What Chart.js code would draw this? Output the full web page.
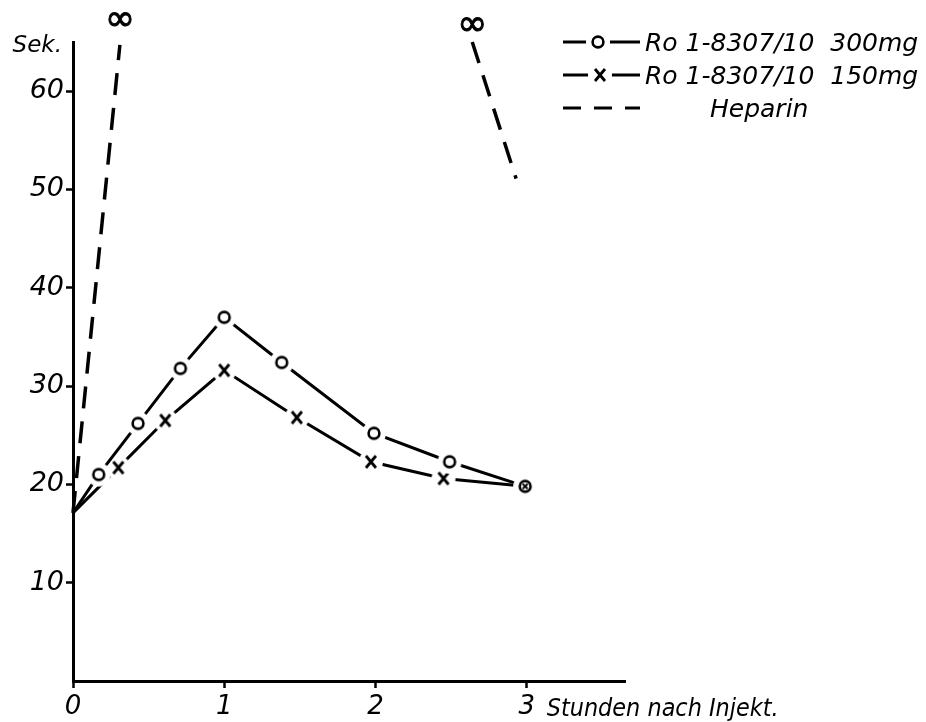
<!DOCTYPE html>
<html>
<head>
<meta charset="utf-8">
<script src="https://cdn.jsdelivr.net/npm/chart.js@4.4.0/dist/chart.umd.min.js"></script>
<style>
  body { margin: 0; background: #fff; }
  canvas { display: block; }
</style>
</head>
<body>
<canvas id="chart" width="926" height="722"></canvas>
<script>
// values (hours after injection, seconds)
const hours300 = [0, 0.17, 0.43, 0.71, 1.0, 1.38, 1.99, 2.49, 2.99];
const secs300 = [17.1, 21.0, 26.2, 31.8, 37.0, 32.4, 25.2, 22.3, 19.8];
const hours150 = [0, 0.30, 0.61, 1.0, 1.48, 1.97, 2.45, 2.99];
const secs150 = [17.1, 21.7, 26.5, 31.6, 26.8, 22.3, 20.6, 19.8];
// heparin goes off to infinity, two pieces
const heparinHours = [0, 0.31, 1.5, 2.64, 2.93];
const heparinSecs = [17.1, 64.7, null, 65.0, 51.1];
const xTicks = [0, 1, 2, 3];
const yTicks = [10, 20, 30, 40, 50, 60];
const legendLabels = ["Ro 1-8307/10  300mg", "Ro 1-8307/10  150mg", "Heparin"];

const FONT = '"DejaVu Sans"';

function pts(xs, ys) {
    return xs.map((x, i) => ({ x: x, y: ys[i] }));
}

// marker images with a white halo so the line stops short of the symbol
function marker(kind) {
    const c = document.createElement("canvas");
    c.width = 26;
    c.height = 26;
    const g = c.getContext("2d");
    g.fillStyle = "#fff";
    g.beginPath();
    g.arc(13, 13, 12, 0, Math.PI * 2);
    g.fill();
    g.strokeStyle = "#000";
    g.lineWidth = 2.6;
    if (kind === "circle" || kind === "both") {
        g.beginPath();
        g.arc(13, 13, 5.4, 0, Math.PI * 2);
        g.stroke();
    }
    if (kind === "cross") {
        g.lineWidth = 2.8;
        g.beginPath();
        g.moveTo(8, 7); g.lineTo(18, 19);
        g.moveTo(18, 7); g.lineTo(8, 19);
        g.stroke();
    }
    if (kind === "both") {
        g.lineWidth = 1.8;
        g.beginPath();
        g.moveTo(10.5, 10.5); g.lineTo(15.5, 15.5);
        g.moveTo(15.5, 10.5); g.lineTo(10.5, 15.5);
        g.stroke();
    }
    return c;
}
const circleImg = marker("circle");
const crossImg = marker("cross");
const bothImg = marker("both");

const extras = {
    id: "extras",
    afterDraw(chart) {
        const ctx = chart.ctx;
        const xs = chart.scales.x, ys = chart.scales.y;
        ctx.save();
        ctx.fillStyle = "#000";
        ctx.strokeStyle = "#000";

        // Sek. label
        ctx.font = "italic 23px " + FONT;
        ctx.textAlign = "right";
        ctx.textBaseline = "alphabetic";
        ctx.fillText("Sek.", 62, 52, 54);

        // axis caption after the "3"
        ctx.font = "italic 24px " + FONT;
        ctx.textAlign = "left";
        ctx.fillText("Stunden nach Injekt.", xs.getPixelForValue(3) + 20, 716, 232);

        // infinity signs over the heparin ends
        ctx.font = "36px " + FONT;
        ctx.textAlign = "center";
        ctx.textBaseline = "middle";
        ctx.lineWidth = 1;
        const inf = [[heparinHours[1], heparinSecs[1], 24], [heparinHours[3], heparinSecs[3], 16]];
        inf.forEach(([h, s, up]) => {
            const px = xs.getPixelForValue(h), py = ys.getPixelForValue(s) - up;
            ctx.fillText("\u221e", px, py);
            ctx.strokeText("\u221e", px, py);
        });

        // legend
        const rows = [42, 75, 108];
        ctx.lineWidth = 3;
        ctx.font = "italic 25px " + FONT;
        ctx.textAlign = "left";
        ctx.textBaseline = "middle";
        for (let i = 0; i < 3; i++) {
            const y = rows[i];
            ctx.beginPath();
            if (i === 2) ctx.setLineDash([18, 13]);
            ctx.moveTo(563, y);
            ctx.lineTo(640, y);
            ctx.stroke();
            ctx.setLineDash([]);
            if (i === 0) ctx.drawImage(circleImg, 598 - 13, y - 13);
            if (i === 1) ctx.drawImage(crossImg, 600 - 13, y - 13);
            if (i < 2) {
                ctx.fillText(legendLabels[i], 645, y + 2, 278);
            } else {
                ctx.fillText(legendLabels[i], 710, y + 2, 108);
            }
        }
        ctx.restore();
    }
};

new Chart(document.getElementById("chart"), {
    type: "line",
    data: {
        datasets: [
            {
                label: legendLabels[0],
                data: pts(hours300, secs300),
                borderColor: "#000",
                borderWidth: 3,
                pointStyle: (c) => c.dataIndex === 0 ? false : (c.dataIndex === hours300.length - 1 ? bothImg : circleImg),
                pointRadius: 6,
                tension: 0,
            },
            {
                label: legendLabels[1],
                data: pts(hours150, secs150),
                borderColor: "#000",
                borderWidth: 3,
                pointStyle: (c) => (c.dataIndex === 0 || c.dataIndex === hours150.length - 1) ? false : crossImg,
                pointRadius: 6,
                tension: 0,
            },
            {
                label: legendLabels[2],
                data: pts(heparinHours, heparinSecs),
                borderColor: "#000",
                borderWidth: 3.5,
                borderDash: [22, 13],
                pointRadius: 0,
                spanGaps: false,
                tension: 0,
                clip: false,
            },
        ],
    },
    options: {
        responsive: false,
        animation: false,
        layout: { padding: { top: 42, right: 301, left: 0, bottom: 0 } },
        plugins: {
            legend: { display: false },
            tooltip: { enabled: false },
        },
        scales: {
            x: {
                type: "linear",
                min: 0,
                max: 3.65,
                afterBuildTicks: (s) => { s.ticks = xTicks.map((v) => ({ value: v })); },
                afterFit: (s) => { s.height = 41; },
                border: { color: "#000", width: 3 },
                grid: { drawOnChartArea: false, tickLength: 7, tickColor: "#000", tickWidth: 2.5 },
                ticks: {
                    color: "#000",
                    padding: 4,
                    maxRotation: 0,
                    font: { family: FONT, size: 26, style: "italic" },
                },
            },
            y: {
                min: 0,
                max: 65,
                afterBuildTicks: (s) => { s.ticks = yTicks.map((v) => ({ value: v })); },
                afterFit: (s) => { s.width = 73; },
                border: { color: "#000", width: 3 },
                grid: { drawOnChartArea: false, tickLength: 7, tickColor: "#000", tickWidth: 2.5 },
                ticks: {
                    color: "#000",
                    padding: 2,
                    font: { family: FONT, size: 27, style: "italic" },
                },
            },
        },
    },
    plugins: [extras],
});
</script>
</body>
</html>
